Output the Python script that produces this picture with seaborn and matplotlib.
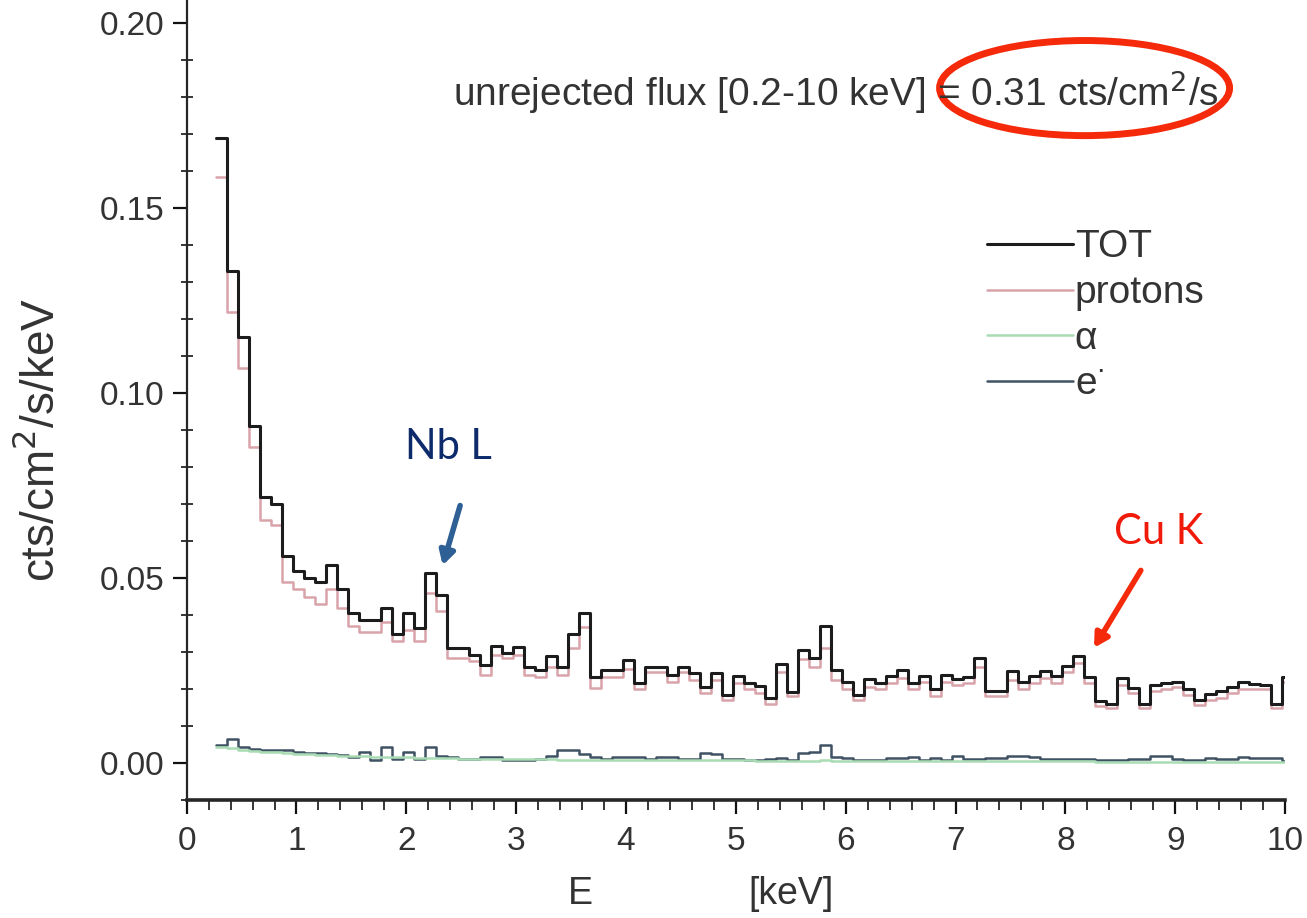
import numpy as np
import pandas as pd
import matplotlib
matplotlib.use("Agg")
import matplotlib.pyplot as plt
import seaborn as sns
from matplotlib.patches import Ellipse
from matplotlib.ticker import MultipleLocator

# ==============================
# Data: spectrum in 0.1 keV bins starting at 0.27 keV
# ==============================
bin_start = 0.27
bin_width = 0.1

tot = [0.169, 0.133, 0.115, 0.091, 0.072, 0.070, 0.056, 0.052, 0.050, 0.049,
       0.0535, 0.047, 0.0405, 0.0386, 0.0386, 0.042, 0.035, 0.0405, 0.0365, 0.0513,
       0.0454, 0.031, 0.031, 0.0292, 0.0265, 0.0316, 0.0298, 0.0313, 0.026, 0.0251,
       0.0289, 0.026, 0.0349, 0.0406, 0.0233, 0.0251, 0.0251, 0.0278, 0.0215, 0.026,
       0.026, 0.0238, 0.026, 0.0244, 0.0206, 0.0244, 0.0184, 0.0235, 0.0215, 0.0208,
       0.0175, 0.0268, 0.0193, 0.0305, 0.0283, 0.037, 0.0251, 0.022, 0.0183, 0.0227,
       0.0215, 0.0234, 0.0251, 0.0216, 0.0236, 0.0200, 0.0238, 0.0228, 0.0233, 0.0283,
       0.0195, 0.0195, 0.0248, 0.022, 0.0236, 0.0248, 0.0236, 0.0263, 0.0289, 0.0233,
       0.0168, 0.0160, 0.0229, 0.0204, 0.0160, 0.0211, 0.0216, 0.022, 0.0200, 0.0170,
       0.0186, 0.0195, 0.0205, 0.0219, 0.0214, 0.0212, 0.0160, 0.0233]

protons = [0.1585, 0.122, 0.1067, 0.0855, 0.0657, 0.0643, 0.049, 0.047, 0.045, 0.043,
           0.047, 0.042, 0.037, 0.0355, 0.0355, 0.038, 0.033, 0.036, 0.033, 0.046,
           0.041, 0.0283, 0.0283, 0.0275, 0.0238, 0.0292, 0.0283, 0.0292, 0.0238, 0.0233,
           0.026, 0.0238, 0.031, 0.0367, 0.0202, 0.0233, 0.0233, 0.0253, 0.020, 0.0245,
           0.0245, 0.022, 0.0245, 0.0225, 0.019, 0.0225, 0.017, 0.0215, 0.020, 0.019,
           0.016, 0.0245, 0.018, 0.028, 0.026, 0.031, 0.0225, 0.020, 0.017, 0.0205,
           0.020, 0.0215, 0.023, 0.020, 0.022, 0.018, 0.022, 0.021, 0.0215, 0.026,
           0.018, 0.018, 0.0225, 0.020, 0.0215, 0.023, 0.0215, 0.0245, 0.027, 0.0215,
           0.0155, 0.015, 0.021, 0.019, 0.015, 0.0195, 0.020, 0.0205, 0.0185, 0.0158,
           0.017, 0.0175, 0.019, 0.020, 0.020, 0.020, 0.015, 0.022]

alpha = [0.0042, 0.0040, 0.0035, 0.0032, 0.0030, 0.0029, 0.0027, 0.0025, 0.0024, 0.0023,
         0.0022, 0.0020, 0.0019, 0.0018, 0.0017, 0.0016, 0.0016, 0.0015, 0.0014, 0.0014,
         0.0013, 0.0013, 0.0012, 0.0012, 0.0011, 0.0011, 0.0011, 0.0010, 0.0010, 0.0010,
         0.0010, 0.0009, 0.0009, 0.0009, 0.0009, 0.0009, 0.0008, 0.0008, 0.0008, 0.0008,
         0.0008, 0.0008, 0.0007, 0.0007, 0.0007, 0.0007, 0.0007, 0.0007, 0.0007, 0.0006,
         0.0006, 0.0006, 0.0006, 0.0006, 0.0006, 0.0007, 0.0006, 0.0006, 0.0006, 0.0006,
         0.0006, 0.0006, 0.0005, 0.0005, 0.0005, 0.0005, 0.0005, 0.0005, 0.0005, 0.0005,
         0.0005, 0.0005, 0.0005, 0.0005, 0.0005, 0.0005, 0.0005, 0.0005, 0.0005, 0.0005,
         0.0004, 0.0004, 0.0004, 0.0004, 0.0004, 0.0004, 0.0004, 0.0004, 0.0004, 0.0004,
         0.0004, 0.0004, 0.0004, 0.0004, 0.0004, 0.0004, 0.0004, 0.0004]

electrons = [0.0049, 0.0064, 0.0043, 0.0039, 0.0036, 0.0034, 0.0036, 0.0029, 0.0027, 0.0027,
             0.0024, 0.0021, 0.0017, 0.0031, 0.0008, 0.0043, 0.0010, 0.0029, 0.0010, 0.0043,
             0.0019, 0.0015, 0.0010, 0.0010, 0.0015, 0.0017, 0.0008, 0.0008, 0.0008, 0.0012,
             0.0019, 0.0036, 0.0036, 0.0024, 0.0017, 0.0012, 0.0015, 0.0015, 0.0017, 0.0010,
             0.0017, 0.0017, 0.0010, 0.0010, 0.0027, 0.0024, 0.0012, 0.0012, 0.0008, 0.0008,
             0.0011, 0.0014, 0.0009, 0.0027, 0.0029, 0.0049, 0.0017, 0.0014, 0.0009, 0.0009,
             0.0009, 0.0014, 0.0014, 0.0017, 0.0009, 0.0014, 0.0009, 0.0020, 0.0011, 0.0011,
             0.0014, 0.0014, 0.0020, 0.0020, 0.0017, 0.0011, 0.0011, 0.0011, 0.0011, 0.0011,
             0.0007, 0.0007, 0.0009, 0.0011, 0.0011, 0.0020, 0.0020, 0.0011, 0.0009, 0.0009,
             0.0014, 0.0012, 0.0012, 0.0016, 0.0014, 0.0014, 0.0014, 0.0005]

series_names = ["TOT", "protons", "\u03b1", "e$^{\u00b7}$"]
series_colors = ["#1c1c1c", "#d9a3aa", "#a9dcb4", "#3f5263"]
series_widths = [2.2, 1.8, 1.8, 1.8]

# ==============================
# Build long table (step edges)
# ==============================
n_bins = len(tot)
edges = bin_start + bin_width * np.arange(n_bins + 1)
frames = []
for name, vals in zip(series_names, [tot, protons, alpha, electrons]):
    frames.append(pd.DataFrame({"E": edges, "flux": list(vals) + [vals[-1]], "series": name}))
df = pd.concat(frames, ignore_index=True)

# ==============================
# Plot
# ==============================
sns.set_style("ticks")
plt.rcParams["font.family"] = ["Liberation Sans", "DejaVu Sans"]

fig = plt.figure(figsize=(13.07, 9.18), dpi=100)
ax = fig.add_axes([0.1428, 0.1285, 0.8404, 0.8715])

# background series first so TOT sits on top
for name, col, lw in list(zip(series_names, series_colors, series_widths))[::-1]:
    sns.lineplot(data=df[df["series"] == name], x="E", y="flux", ax=ax,
                 color=col, lw=lw, drawstyle="steps-post", estimator=None,
                 sort=False, label=name)

ax.set_xlim(0, 10)
ax.set_ylim(-0.0100, 0.2062)
ax.xaxis.set_major_locator(MultipleLocator(1))
ax.xaxis.set_minor_locator(MultipleLocator(0.2))
ax.yaxis.set_minor_locator(MultipleLocator(0.01))
ax.set_yticks([0.0, 0.05, 0.10, 0.15, 0.20])
ax.yaxis.set_major_formatter(plt.FormatStrFormatter("%.2f"))

for s in ["top", "right"]:
    ax.spines[s].set_visible(False)
ax.spines["left"].set_linewidth(1.6)
ax.spines["bottom"].set_linewidth(2.6)
ax.tick_params(axis="both", which="major", direction="out", length=10, width=1.6,
               labelsize=24, colors="#111111", labelcolor="#333333")
ax.tick_params(axis="y", which="minor", direction="inout", length=8, width=1.3)
ax.tick_params(axis="x", which="minor", direction="out", length=7, width=1.3)
ax.tick_params(axis="x", which="major", pad=9)
ax.tick_params(axis="y", which="major", pad=6)

ax.set_xlabel("")
ax.set_ylabel("cts/cm$^2$/s/keV", fontsize=33, color="#333333")
ax.yaxis.set_label_coords(-0.112, 0.45)
fig.text(0.444, 0.026, "E", fontsize=27, color="#333333", ha="center", va="center")
fig.text(0.605, 0.026, "[keV]", fontsize=27, color="#333333", ha="center", va="center")

# legend: TOT, protons, alpha, e-
handles, labels = ax.get_legend_handles_labels()
order = [labels.index(n) for n in series_names]
leg = ax.legend([handles[i] for i in order], [labels[i] for i in order],
                loc="upper left", bbox_to_anchor=(0.697, 0.757), frameon=False,
                fontsize=28, handlelength=2.2, handletextpad=0.05,
                labelspacing=0.25, labelcolor="#333333")

# flux annotation and red ellipse
ax.text(0.591, 0.885, "unrejected flux [0.2-10 keV] = 0.31 cts/cm$^2$/s",
        transform=ax.transAxes, fontsize=28, color="#333333", ha="center", va="center")
ax.add_patch(Ellipse((8.175, 0.1824), 2.64, 0.0257, fill=False, ec="#f52a0a",
                     lw=5, clip_on=False))

# line labels with arrows
ax.text(2.38, 0.0855, "Nb L", fontsize=30, color="#0d2b6b", ha="center", va="center",
        family=["Lato", "DejaVu Sans"])
ax.annotate("", xy=(2.324, 0.0527), xytext=(2.497, 0.0703),
            arrowprops=dict(arrowstyle="-|>,head_length=0.8,head_width=0.45",
                            color="#2e5f95", lw=4))
ax.text(8.85, 0.0625, "Cu K", fontsize=30, color="#f01a0a", ha="center", va="center",
        family=["Lato", "DejaVu Sans"])
ax.annotate("", xy=(8.248, 0.0305), xytext=(8.70, 0.0527),
            arrowprops=dict(arrowstyle="-|>,head_length=0.8,head_width=0.45",
                            color="#f52a0a", lw=4))

fig.savefig("out.png", dpi=100)
